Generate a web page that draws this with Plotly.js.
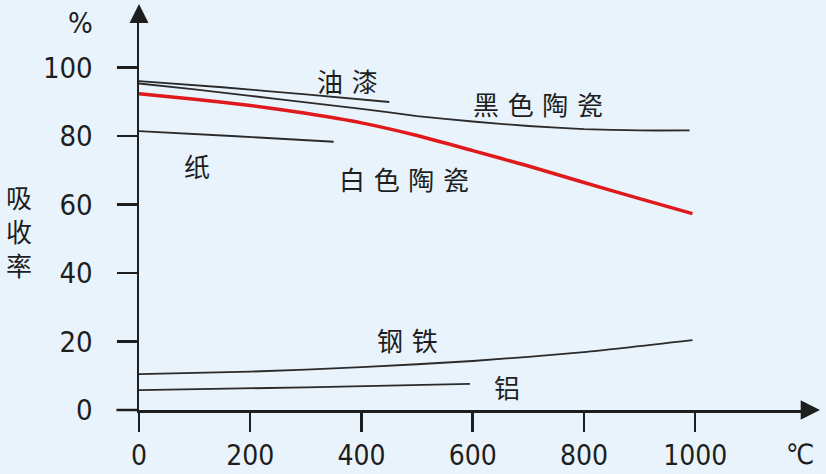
<!DOCTYPE html>
<html>
<head>
<meta charset="utf-8">
<script src="https://cdn.plot.ly/plotly-3.0.1.min.js"></script>
<style>
  html, body { margin: 0; padding: 0; background: #e8f3fb; }
  #chart { width: 826px; height: 474px; }
</style>
</head>
<body>
<div id="chart"></div>
<script>
'use strict';

// temperature (°C) and absorption rate (%)
const paintT = [0, 150, 300, 450];
const paintV = [96.0, 94.2, 92.1, 89.9];

const blackT = [0, 100, 200, 300, 400, 500, 600, 700, 800, 900, 990];
const blackV = [95.3, 93.6, 91.7, 89.8, 87.9, 85.8, 84.2, 82.9, 82.0, 81.6, 81.6];

const whiteT = [0, 100, 200, 300, 400, 500, 600, 700, 800, 900, 995];
const whiteV = [92.3, 90.7, 88.9, 86.6, 83.8, 80.1, 75.7, 71.2, 66.4, 61.7, 57.3];

const paperT = [0, 175, 350];
const paperV = [81.4, 79.9, 78.3];

const steelT = [0, 200, 400, 600, 800, 995];
const steelV = [10.5, 11.2, 12.5, 14.3, 16.9, 20.4];

const aluT = [0, 300, 595];
const aluV = [5.8, 6.6, 7.6];

const xTicks = [0, 200, 400, 600, 800, 1000];
const yTicks = [0, 20, 40, 60, 80, 100];

// curve labels: [text, x, y]
const curveLabels = [
	['油漆', 375, 96.1],
	['黑色陶瓷', 718, 89.5],
	['纸', 105, 71.3],
	['白色陶瓷', 476, 67.5],
	['钢铁', 483, 20.5],
	['铝', 661, 6.8]
];

const numFont = '"DejaVu Sans Condensed", "Liberation Sans Narrow", "Noto Sans", sans-serif';
const cjkFont = '"Noto Sans CJK SC", "Noto Sans", sans-serif';
const ink = '#1e1e1e';
const gap = '\u2004';

function line(x, y, color, width)
{
	return {
		x: x,
		y: y,
		type: 'scatter',
		mode: 'lines',
		line: { color: color, width: width, shape: 'spline', smoothing: 0.6 },
		hoverinfo: 'skip'
	};
}

const traces = [
	line(paintT, paintV, '#2a2a2a', 1.8),
	line(blackT, blackV, '#2a2a2a', 1.8),
	line(paperT, paperV, '#2a2a2a', 1.8),
	line(steelT, steelV, '#2a2a2a', 1.8),
	line(aluT, aluV, '#2a2a2a', 1.8),
	line(whiteT, whiteV, '#e0191c', 3.5)
];

const annotations = curveLabels.map(function(l) {
	return {
		text: l[0].split('').join(gap), x: l[1], y: l[2], xref: 'x', yref: 'y',
		xanchor: 'center', yanchor: 'middle',
		showarrow: false,
		font: { family: cjkFont, size: 26, color: ink }
	};
});

annotations.push({
	text: '%', xref: 'paper', yref: 'paper', x: -0.0875, y: 0.982,
	xanchor: 'center', yanchor: 'middle',
	showarrow: false, font: { family: numFont, size: 29, color: ink }
});
annotations.push({
	text: '吸<br>收<br>率', xref: 'paper', yref: 'paper', x: -0.181, y: 0.4556,
	xanchor: 'center', yanchor: 'middle',
	showarrow: false, align: 'center',
	font: { family: cjkFont, size: 26, color: ink }
});
annotations.push({
	text: '℃', xref: 'paper', yref: 'paper', x: 0.997, y: -0.112,
	xanchor: 'center', yanchor: 'middle',
	showarrow: false, font: { family: numFont, size: 28, color: ink }
});

const shapes = [
	// x axis extension left of the y axis
	{ type: 'line', xref: 'paper', yref: 'paper', x0: -0.034, x1: 0, y0: 0, y1: 0,
	  line: { color: ink, width: 2.5 } },
	// arrowheads
	{ type: 'path', xref: 'paper', yref: 'paper',
	  path: 'M -0.0143,0.982 L 0.0143,0.982 L 0,1.0305 Z',
	  fillcolor: ink, line: { width: 0 } },
	{ type: 'path', xref: 'paper', yref: 'paper',
	  path: 'M 0.998,0.0246 L 0.998,-0.0246 L 1.0271,0 Z',
	  fillcolor: ink, line: { width: 0 } }
];

const layout = {
	width: 826,
	height: 474,
	margin: { l: 139, r: 24, t: 16, b: 64 },
	paper_bgcolor: '#e8f3fb',
	plot_bgcolor: '#e8f3fb',
	showlegend: false,
	xaxis: {
		range: [0, 1192],
		tickvals: xTicks,
		ticktext: xTicks.map(String),
		ticks: 'outside',
		ticklen: 19,
		tickwidth: 2.5,
		tickcolor: ink,
		showline: true,
		linecolor: ink,
		linewidth: 2.5,
		showgrid: false,
		zeroline: false,
		fixedrange: true,
		ticklabelstandoff: 0,
		tickfont: { family: numFont, size: 28, color: ink }
	},
	yaxis: {
		range: [0, 115],
		tickvals: yTicks,
		ticktext: yTicks.map(String),
		ticks: 'outside',
		ticklen: 20,
		tickwidth: 2.5,
		tickcolor: ink,
		showline: true,
		linecolor: ink,
		linewidth: 2.5,
		showgrid: false,
		zeroline: false,
		fixedrange: true,
		ticklabelstandoff: 18,
		tickfont: { family: numFont, size: 29, color: ink }
	},
	annotations: annotations,
	shapes: shapes
};

Plotly.newPlot('chart', traces, layout, { staticPlot: true });
</script>
</body>
</html>
